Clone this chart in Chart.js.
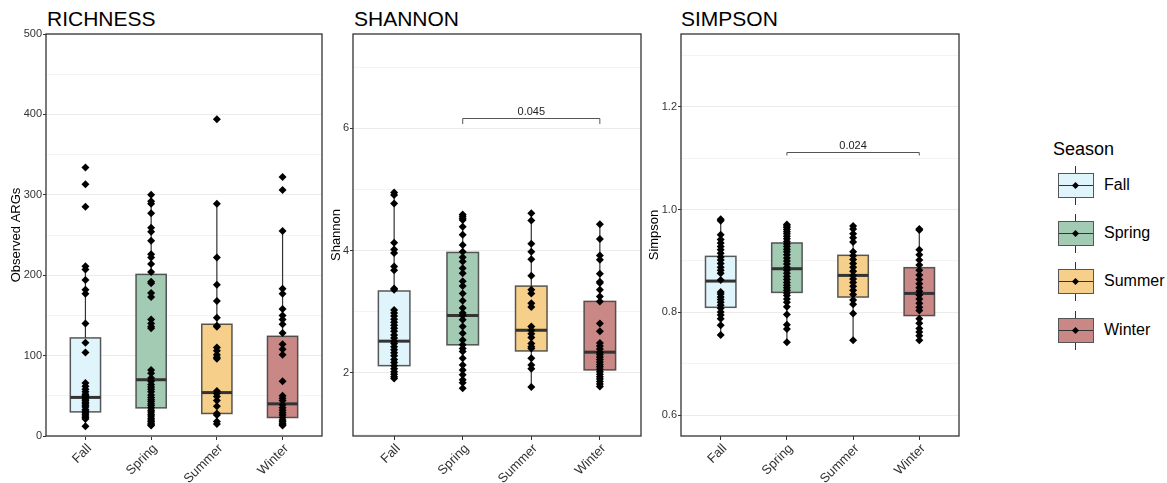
<!DOCTYPE html>
<html>
<head>
<meta charset="utf-8">
<script src="https://cdn.jsdelivr.net/npm/chart.js@4.4.0/dist/chart.umd.min.js"></script>
<style>
  body { margin: 0; background: #fff; width: 1167px; height: 483px; overflow: hidden; position: relative;
         font-family: "Liberation Sans", Arial, sans-serif; }
  canvas { position: absolute; top: 0; }
  .ptitle { position: absolute; top: 8px; font-size: 21px; line-height: 21px; color: #000; }
  .legend-title { position: absolute; left: 1053px; top: 140px; font-size: 18px; line-height: 18px; color: #000; }
  .key { position: absolute; left: 1058px; width: 36px; height: 25px; }
  .key .whisk { position: absolute; left: 17px; top: -7px; width: 1px; height: 39px; background: #333; }
  .key .box { position: absolute; left: 0; top: 0; width: 34px; height: 23px; border: 1px solid #555; }
  .key .mid { position: absolute; left: 1px; top: 12px; width: 34px; height: 1px; background: #333; }
  .key .dia { position: absolute; left: 15px; top: 10px; width: 5px; height: 5px; background: #000; transform: rotate(45deg); }
  .key-label { position: absolute; left: 1104px; font-size: 16px; line-height: 16px; color: #000; }
</style>
</head>
<body>
<div class="ptitle" style="left:47px">RICHNESS</div>
<div class="ptitle" style="left:354px">SHANNON</div>
<div class="ptitle" style="left:681px">SIMPSON</div>

<canvas id="richness" width="330" height="483" style="left:0px"></canvas>
<canvas id="shannon" width="326" height="483" style="left:322px"></canvas>
<canvas id="simpson" width="320" height="483" style="left:645px"></canvas>

<div id="legend"></div>

<script>
// categories
const seasons = ["Fall", "Spring", "Summer", "Winter"];
const seasonFills = ["#dff5fb", "#a3cbb4", "#f6d08b", "#c98886"];

// RICHNESS (Observed ARGs)
const richnessFall = [334, 313, 285, 211, 207, 194, 182, 177, 140, 116, 104, 66, 62, 58, 55, 52, 50, 48, 46, 44, 42, 40, 38, 36, 33, 31, 29, 27, 25, 23, 21, 12];
const richnessSpring = [300, 292, 289, 277, 259, 254, 243, 226, 222, 214, 204, 192, 190, 178, 173, 145, 140, 136, 134, 82, 78, 72, 68, 64, 61, 58, 55, 51, 48, 45, 43, 40, 38, 35, 32, 30, 27, 25, 22, 20, 18, 16, 14, 13];
const richnessSummer = [394, 289, 222, 188, 168, 147, 137, 136, 110, 106, 101, 98, 96, 56, 53, 49, 44, 37, 28, 26, 18, 15];
const richnessWinter = [322, 306, 255, 183, 177, 158, 150, 145, 139, 128, 114, 108, 101, 68, 50, 47, 44, 39, 35, 32, 29, 26, 23, 20, 18, 16, 14, 13];
// [lower whisker, Q1, median, Q3, upper whisker]
const richnessBox = [[12, 30, 48, 122, 211], [13, 35, 70, 201, 300], [15, 28, 54, 139, 289], [13, 23, 40, 124, 255]];
const richnessTicks = [0, 100, 200, 300, 400, 500];
const richnessMinor = [50, 150, 250, 350, 450];

// SHANNON
const shannonFall = [4.95, 4.91, 4.77, 4.13, 4.02, 3.96, 3.74, 3.68, 3.38, 3.36, 3.03, 2.98, 2.93, 2.88, 2.83, 2.78, 2.73, 2.68, 2.62, 2.57, 2.52, 2.48, 2.43, 2.38, 2.33, 2.28, 2.22, 2.17, 2.12, 2.07, 2.02, 1.98, 1.94, 1.91];
const shannonSpring = [4.59, 4.56, 4.53, 4.50, 4.39, 4.26, 4.09, 3.98, 3.89, 3.82, 3.71, 3.63, 3.50, 3.42, 3.30, 3.18, 3.06, 2.98, 2.94, 2.87, 2.76, 2.65, 2.54, 2.46, 2.40, 2.35, 2.24, 2.13, 2.05, 1.97, 1.89, 1.84, 1.75];
const shannonSummer = [4.61, 4.49, 4.11, 3.98, 3.86, 3.59, 3.36, 3.30, 3.14, 3.08, 2.76, 2.70, 2.64, 2.58, 2.48, 2.43, 2.40, 2.24, 2.13, 2.07, 1.77];
const shannonWinter = [4.43, 4.19, 3.92, 3.85, 3.62, 3.49, 3.47, 3.36, 3.25, 3.17, 2.81, 2.68, 2.49, 2.44, 2.39, 2.34, 2.30, 2.26, 2.22, 2.18, 2.14, 2.10, 2.06, 2.02, 1.98, 1.94, 1.90, 1.86, 1.82, 1.78];
const shannonBox = [[1.90, 2.12, 2.52, 3.34, 4.95], [1.75, 2.46, 2.94, 3.97, 4.59], [1.77, 2.36, 2.70, 3.42, 4.61], [1.78, 2.05, 2.34, 3.17, 4.43]];
const shannonTicks = [2, 4, 6];
const shannonMinor = [1, 3, 5, 7];
// [from, to, bracket y, tip y, p value]
const shannonSig = ["Spring", "Winter", 6.17, 6.07, "0.045"];

// SIMPSON
const simpsonFall = [0.981, 0.978, 0.951, 0.942, 0.935, 0.928, 0.922, 0.915, 0.908, 0.902, 0.895, 0.888, 0.882, 0.876, 0.863, 0.840, 0.836, 0.830, 0.825, 0.820, 0.814, 0.808, 0.801, 0.795, 0.788, 0.775, 0.756];
const simpsonSpring = [0.971, 0.968, 0.965, 0.961, 0.957, 0.953, 0.948, 0.943, 0.938, 0.933, 0.928, 0.923, 0.918, 0.912, 0.906, 0.900, 0.894, 0.888, 0.882, 0.876, 0.870, 0.864, 0.858, 0.853, 0.848, 0.843, 0.838, 0.833, 0.826, 0.820, 0.811, 0.796, 0.776, 0.768, 0.742];
const simpsonSummer = [0.968, 0.962, 0.953, 0.945, 0.937, 0.918, 0.910, 0.903, 0.895, 0.888, 0.880, 0.872, 0.865, 0.858, 0.851, 0.843, 0.835, 0.824, 0.816, 0.798, 0.746];
const simpsonWinter = [0.962, 0.960, 0.922, 0.912, 0.902, 0.892, 0.882, 0.873, 0.864, 0.856, 0.848, 0.841, 0.834, 0.826, 0.818, 0.810, 0.804, 0.788, 0.779, 0.769, 0.762, 0.755, 0.746];
const simpsonBox = [[0.756, 0.810, 0.861, 0.909, 0.979], [0.742, 0.839, 0.885, 0.935, 0.971], [0.746, 0.830, 0.872, 0.911, 0.968], [0.746, 0.794, 0.837, 0.887, 0.962]];
const simpsonTicks = [0.6, 0.8, 1.0, 1.2];
const simpsonMinor = [0.7, 0.9, 1.1, 1.3];
const simpsonSig = ["Spring", "Winter", 1.111, 1.105, "0.024"];

Chart.defaults.font.family = '"Liberation Sans", Arial, sans-serif';
Chart.defaults.color = "#333";

// box + whiskers drawn under the points
function boxPlugin(stats, boxWidth) {
  return {
    id: "boxes",
    beforeDatasetsDraw(chart) {
      const { ctx, scales: { x, y } } = chart;
      const half = (x.getPixelForValue(1 + boxWidth / 2) - x.getPixelForValue(1));
      ctx.save();
      stats.forEach((s, i) => {
        const [lo, q1, med, q3, hi] = s;
        const xc = x.getPixelForValue(i + 1);
        ctx.strokeStyle = "#333";
        ctx.lineWidth = 1.2;
        ctx.beginPath();
        ctx.moveTo(xc, y.getPixelForValue(hi));
        ctx.lineTo(xc, y.getPixelForValue(q3));
        ctx.moveTo(xc, y.getPixelForValue(q1));
        ctx.lineTo(xc, y.getPixelForValue(lo));
        ctx.stroke();
        const top = y.getPixelForValue(q3), bot = y.getPixelForValue(q1);
        ctx.fillStyle = seasonFills[i];
        ctx.fillRect(xc - half, top, half * 2, bot - top);
        ctx.strokeStyle = "rgba(60,60,60,0.85)";
        ctx.lineWidth = 1.5;
        ctx.strokeRect(xc - half, top, half * 2, bot - top);
        ctx.strokeStyle = "#333";
        ctx.lineWidth = 3;
        ctx.beginPath();
        ctx.moveTo(xc - half, y.getPixelForValue(med));
        ctx.lineTo(xc + half, y.getPixelForValue(med));
        ctx.stroke();
      });
      ctx.restore();
    }
  };
}

// panel border + significance bracket
function framePlugin(sig) {
  return {
    id: "frame",
    afterDraw(chart) {
      const { ctx, chartArea: a, scales: { x, y } } = chart;
      ctx.save();
      if (sig) {
        const x1 = x.getPixelForValue(seasons.indexOf(sig[0]) + 1);
        const x2 = x.getPixelForValue(seasons.indexOf(sig[1]) + 1);
        const yb = Math.round(y.getPixelForValue(sig[2])) + 0.5;
        const yt = y.getPixelForValue(sig[3]);
        ctx.strokeStyle = "#555";
        ctx.lineWidth = 1;
        ctx.beginPath();
        ctx.moveTo(x1, yt);
        ctx.lineTo(x1, yb);
        ctx.lineTo(x2, yb);
        ctx.lineTo(x2, yt);
        ctx.stroke();
        ctx.fillStyle = "#222";
        ctx.font = '11px "Liberation Sans", Arial, sans-serif';
        ctx.textAlign = "center";
        ctx.textBaseline = "alphabetic";
        ctx.fillText(sig[4], (x1 + x2) / 2, yb - 4);
      }
      ctx.strokeStyle = "#333";
      ctx.lineWidth = 1.3;
      ctx.strokeRect(a.left, a.top, a.right - a.left, a.bottom - a.top);
      ctx.restore();
    }
  };
}

function makePanel(id, cfg) {
  const canvas = document.getElementById(id);
  const points = [];
  cfg.series.forEach((vals, i) => vals.forEach(v => points.push({ x: i + 1, y: v })));
  const allTicks = cfg.ticks.concat(cfg.minor).sort((a, b) => a - b);
  return new Chart(canvas, {
    type: "scatter",
    data: {
      datasets: [{
        data: points,
        pointStyle: "rectRot",
        pointRadius: 4,
        backgroundColor: "#000",
        borderWidth: 0
      }]
    },
    options: {
      responsive: false,
      animation: false,
      events: [],
      layout: { padding: { left: 0, right: canvas.width - cfg.right, top: 34, bottom: 0 } },
      plugins: { legend: { display: false }, tooltip: { enabled: false } },
      scales: {
        x: {
          type: "linear",
          min: 0.4,
          max: 4.6,
          afterBuildTicks: axis => { axis.ticks = seasons.map((s, i) => ({ value: i + 1 })); },
          afterFit: axis => { axis.height = 47; },
          ticks: {
            autoSkip: false,
            maxRotation: 45,
            minRotation: 45,
            padding: 1,
            labelOffset: 4,
            color: "#333",
            font: { size: 13 },
            callback: (v, i) => seasons[i]
          },
          grid: { drawOnChartArea: false, drawTicks: true, tickLength: 4, tickColor: "#333" },
          border: { display: false }
        },
        y: {
          type: "linear",
          min: cfg.min,
          max: cfg.max,
          afterBuildTicks: axis => { axis.ticks = allTicks.map(v => ({ value: v })); },
          afterFit: axis => { axis.width = cfg.axisW; },
          title: { display: true, text: cfg.title, color: "#000", font: { size: 13 }, padding: { top: cfg.titlePad, bottom: 0 } },
          ticks: {
            autoSkip: false,
            padding: 1,
            color: "#333",
            font: { size: 11 },
            callback: v => cfg.ticks.includes(v) ? cfg.fmt(v) : ""
          },
          grid: {
            color: c => cfg.ticks.includes(c.tick.value) ? "#ebebeb" : "#f3f3f3",
            tickColor: c => cfg.ticks.includes(c.tick.value) ? "#333" : "rgba(0,0,0,0)",
            tickLength: 3,
            lineWidth: 1
          },
          border: { display: false }
        }
      }
    },
    plugins: [boxPlugin(cfg.box, 0.46), framePlugin(cfg.sig)]
  });
}

makePanel("richness", {
  series: [richnessFall, richnessSpring, richnessSummer, richnessWinter],
  box: richnessBox, ticks: richnessTicks, minor: richnessMinor,
  min: 0, max: 500, axisW: 46, right: 322, titlePad: 9,
  title: "Observed ARGs", fmt: v => String(v), sig: null
});

makePanel("shannon", {
  series: [shannonFall, shannonSpring, shannonSummer, shannonWinter],
  box: shannonBox, ticks: shannonTicks, minor: shannonMinor,
  min: 0.97, max: 7.54, axisW: 31, right: 319, titlePad: 7,
  title: "Shannon", fmt: v => String(v), sig: shannonSig
});

makePanel("simpson", {
  series: [simpsonFall, simpsonSpring, simpsonSummer, simpsonWinter],
  box: simpsonBox, ticks: simpsonTicks, minor: simpsonMinor,
  min: 0.56, max: 1.341, axisW: 36, right: 314, titlePad: 2,
  title: "Simpson", fmt: v => v.toFixed(1), sig: simpsonSig
});

// legend
function buildLegend() {
  const box = document.getElementById("legend");
  let html = '<div class="legend-title">Season</div>';
  seasons.forEach((s, i) => {
    const top = 173 + i * 48.2;
    html += `<div class="key" style="top:${top}px"><div class="whisk"></div>` +
      `<div class="box" style="background:${seasonFills[i]}"></div><div class="mid"></div><div class="dia"></div></div>` +
      `<div class="key-label" style="top:${top + 4}px">${s}</div>`;
  });
  box.innerHTML = html;
}
buildLegend();
</script>
</body>
</html>
